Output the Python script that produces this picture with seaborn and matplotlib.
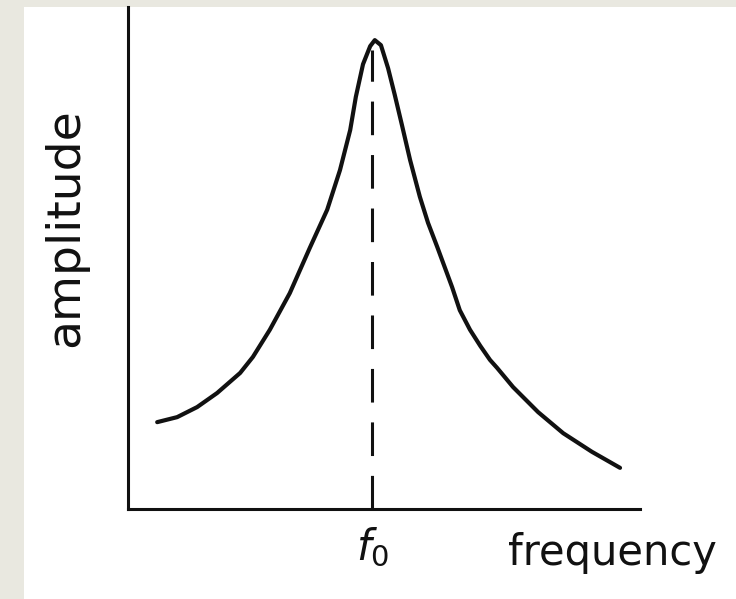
import matplotlib
matplotlib.use("Agg")
import matplotlib.pyplot as plt
import seaborn as sns
import pandas as pd
from matplotlib.patches import Rectangle

# Resonance curve (arbitrary units): frequency vs amplitude
frequency = [0.57, 0.96, 1.35, 1.74, 2.19, 2.44, 2.77, 3.16, 3.55, 3.89,
             4.14, 4.34, 4.45, 4.59, 4.73, 4.82, 4.94, 5.08, 5.21, 5.35,
             5.51, 5.70, 5.86, 6.04, 6.33, 6.48, 6.68, 6.88, 7.07, 7.21,
             7.52, 8.01, 8.50, 9.06, 9.61]
amplitude = [1.73, 1.83, 2.03, 2.31, 2.71, 3.03, 3.57, 4.30, 5.20, 5.96,
             6.75, 7.55, 8.21, 8.86, 9.22, 9.34, 9.24, 8.78, 8.25, 7.65,
             6.95, 6.22, 5.70, 5.22, 4.42, 3.96, 3.57, 3.25, 2.97, 2.81,
             2.43, 1.93, 1.51, 1.14, 0.82]
f0 = 4.77
f0_top = 9.14
f0_label = "$f_0$"
x_label = "frequency"
y_label = "amplitude"

df = pd.DataFrame({"frequency": frequency, "amplitude": amplitude})

sns.set_theme(style="white")
plt.rcParams["font.family"] = ["DejaVu Sans"]
plt.rcParams["mathtext.fontset"] = "dejavusans"

fig = plt.figure(figsize=(7.36, 5.99), dpi=100)
fig.patch.set_facecolor("#e9e8e0")
# white sheet behind the drawing
fig.patches.append(Rectangle((24 / 736, 0), 1 - 24 / 736, 1 - 7 / 599,
                             transform=fig.transFigure, facecolor="white",
                             edgecolor="none", zorder=-5))

ax = fig.add_axes([128 / 736, 90 / 599, 512 / 736, 502 / 599])
ax.set_zorder(2)
ax.set_facecolor("none")

sns.lineplot(data=df, x="frequency", y="amplitude", ax=ax, color="#111111",
             linewidth=3.0, estimator=None, sort=False,
             solid_joinstyle="round", solid_capstyle="round")

ax.plot([f0, f0], [0, f0_top], color="#111111", linewidth=2.2,
        dashes=(11, 6.5), solid_capstyle="butt")

ax.set_xlim(0, 10)
ax.set_ylim(0, 10)

for side in ("top", "right"):
    ax.spines[side].set_visible(False)
for side in ("left", "bottom"):
    ax.spines[side].set_color("#111111")
    ax.spines[side].set_linewidth(2.2)

ax.set_xticks([f0])
ax.set_xticklabels([f0_label], fontsize=30, color="#111111")
ax.tick_params(axis="x", length=0, pad=12)
ax.set_yticks([])
ax.set_xlabel("")
ax.set_ylabel("")

fig.text(612 / 736, 1 - 553 / 599, x_label, fontsize=30, color="#111111",
         ha="center", va="center", zorder=3)
fig.text(66 / 736, 1 - 228 / 599, y_label, fontsize=34, color="#111111",
         ha="center", va="center", rotation=90, zorder=3)

fig.savefig("out.png", dpi=100)
